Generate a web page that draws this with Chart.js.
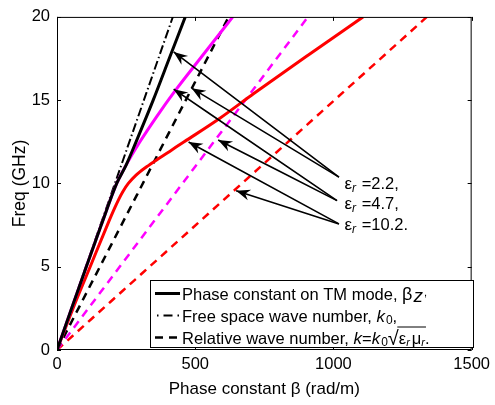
<!DOCTYPE html>
<html><head><meta charset="utf-8">
<script src="https://cdn.jsdelivr.net/npm/chart.js@4/dist/chart.umd.min.js"></script>
<style>html,body{margin:0;padding:0;background:#fff}#c{display:block}</style>
</head><body>
<canvas id="c" width="495" height="405"></canvas>
<script>
// ---- data ----
const xTicks = [0, 500, 1000, 1500];
const yTicks = [0, 5, 10, 15, 20];

// TM-mode phase constant (solid)
const tm22Beta  = [0, 53, 106, 160, 216, 250, 286, 348, 406, 464];
const tm22Freq  = [0, 2.5, 5, 7.5, 10, 11.1, 12.5, 15, 17.5, 20];
const tm47Beta  = [0, 53, 106, 160, 216, 250, 300, 360, 429, 518, 636];
const tm47Freq  = [0, 2.5, 5, 7.5, 10, 11.1, 12.5, 14, 15.6, 17.5, 20];
const tm102Beta = [0, 58, 120, 182, 208, 222, 238, 258, 286, 324, 368, 414, 460, 588, 712, 908, 1107];
const tm102Freq = [0, 2.5, 5, 7.5, 8.5, 9, 9.5, 10, 10.5, 11, 11.5, 12, 12.5, 13.9, 15.4, 17.7, 20];

// free-space wave number k0 (dash-dot)
const k0Beta = [0, 419];
const k0Freq = [0, 20];
// relative wave numbers (dashed)
const k22Beta  = [0, 621];
const k47Beta  = [0, 908];
const k102Beta = [0, 1338];
const kFreq    = [0, 20];

// annotation arrows (tail -> head)
const arrowTailBeta = [1020, 1020, 1013, 1013, 1020, 1020];
const arrowTailFreq = [10.38, 10.38, 8.97, 8.97, 7.57, 7.57];
const arrowHeadBeta = [422, 487, 422, 583, 476, 648];
const arrowHeadFreq = [17.9, 15.72, 15.66, 12.61, 12.49, 9.56];

// annotation labels
const labelValues = ['2.2,', '4.7,', '10.2.'];
const labelBeta = [1040, 1040, 1040];
const labelFreq = [9.68, 8.45, 7.22];

const FONT = 'Liberation Sans, Arial, Helvetica, sans-serif';
const FS = 16.5;

function pts(xs, ys) { return xs.map((v, i) => ({x: v, y: ys[i]})); }

const datasets = [];
function line(data, color, width, dash, order) {
  datasets.push({data, borderColor: color, borderWidth: width, borderDash: dash || [],
    pointRadius: 0, fill: false, cubicInterpolationMode: 'monotone', order,
    borderCapStyle: 'butt', borderJoinStyle: 'round'});
}
// dashed first (underneath)
line(pts(k0Beta, k0Freq), '#000000', 2, [9, 3, 1.5, 3], 2);
line(pts(k22Beta, kFreq), '#000000', 2.5, [8, 6], 2);
line(pts(k47Beta, kFreq), '#ff00ff', 2.5, [8, 6], 2);
line(pts(k102Beta, kFreq), '#ff0000', 2.5, [8, 6], 2);
line(pts(tm22Beta, tm22Freq), '#000000', 3, [], 1);
line(pts(tm47Beta, tm47Freq), '#ff00ff', 3, [], 1);
line(pts(tm102Beta, tm102Freq), '#ff0000', 3, [], 1);
for (let i = 0; i < arrowTailBeta.length; i++) {
  line([{x: arrowTailBeta[i], y: arrowTailFreq[i]}, {x: arrowHeadBeta[i], y: arrowHeadFreq[i]}],
       '#000000', 1.6, [], 0);
}

function drawRich(ctx, x, y, segs) {
  ctx.textBaseline = 'alphabetic';
  ctx.textAlign = 'left';
  const out = [];
  for (const s of segs) {
    ctx.font = (s.i ? 'italic ' : '') + s.s + 'px ' + FONT;
    const w = ctx.measureText(s.t).width;
    ctx.fillText(s.t, x, y + (s.dy || 0));
    out.push({x0: x, x1: x + w});
    x += w + (s.gap || 0);
  }
  return out;
}

const deco = {
  id: 'deco',
  afterDatasetsDraw(chart) {
    const ctx = chart.ctx, a = chart.chartArea, xs = chart.scales.x, ys = chart.scales.y;
    ctx.save();
    // arrowheads
    ctx.fillStyle = '#000';
    for (let i = 0; i < arrowTailBeta.length; i++) {
      const tx = xs.getPixelForValue(arrowTailBeta[i]), ty = ys.getPixelForValue(arrowTailFreq[i]);
      const hx = xs.getPixelForValue(arrowHeadBeta[i]), hy = ys.getPixelForValue(arrowHeadFreq[i]);
      let dx = hx - tx, dy = hy - ty; const len = Math.hypot(dx, dy); dx /= len; dy /= len;
      const nx = -dy, ny = dx, L = 14, W = 5.5, N = 4.5;
      ctx.beginPath();
      ctx.moveTo(hx, hy);
      ctx.lineTo(hx - L * dx + W * nx, hy - L * dy + W * ny);
      ctx.lineTo(hx - (L - N) * dx, hy - (L - N) * dy);
      ctx.lineTo(hx - L * dx - W * nx, hy - L * dy - W * ny);
      ctx.closePath();
      ctx.fill();
    }
    // frame + inward ticks
    ctx.strokeStyle = '#000'; ctx.lineWidth = 1;
    ctx.strokeRect(a.left + 0.5, a.top + 0.5, a.right - a.left - 1, a.bottom - a.top - 1);
    ctx.beginPath();
    const T = 4;
    for (const v of xTicks) {
      const px = Math.round(xs.getPixelForValue(v)) + 0.5;
      ctx.moveTo(px, a.bottom); ctx.lineTo(px, a.bottom - T);
      ctx.moveTo(px, a.top); ctx.lineTo(px, a.top + T);
    }
    for (const v of yTicks) {
      const py = Math.round(ys.getPixelForValue(v)) + 0.5;
      ctx.moveTo(a.left, py); ctx.lineTo(a.left + T, py);
      ctx.moveTo(a.right, py); ctx.lineTo(a.right - T, py);
    }
    ctx.stroke();

    // epsilon labels
    ctx.fillStyle = '#000';
    for (let i = 0; i < labelValues.length; i++) {
      const px = xs.getPixelForValue(labelBeta[i]), py = ys.getPixelForValue(labelFreq[i]);
      drawRich(ctx, px, py, [
        {t: 'ε', s: 17},
        {t: 'r', s: 12, i: true, dy: 3, gap: 1},
        {t: ' =' + labelValues[i], s: FS}
      ]);
    }

    // legend box
    const bx = 150, by = 280, bw = 323, bh = 67;
    ctx.fillStyle = '#fff';
    ctx.fillRect(bx, by, bw, bh);
    ctx.strokeStyle = '#000'; ctx.lineWidth = 1;
    ctx.strokeRect(bx + 0.5, by + 0.5, bw, bh);
    const rows = [293.5, 315.5, 337.5];
    const sx0 = 155, sx1 = 180, tx0 = 182;
    // samples
    ctx.lineCap = 'butt';
    ctx.beginPath(); ctx.lineWidth = 3; ctx.setLineDash([]);
    ctx.moveTo(sx0, rows[0]); ctx.lineTo(sx1, rows[0]); ctx.stroke();
    ctx.beginPath(); ctx.lineWidth = 2; ctx.setLineDash([1.5, 5, 9, 5]);
    ctx.moveTo(sx0 + 2, rows[1]); ctx.lineTo(sx1 + 2, rows[1]); ctx.stroke();
    ctx.beginPath(); ctx.lineWidth = 2.5; ctx.setLineDash([8, 6]);
    ctx.moveTo(sx0, rows[2]); ctx.lineTo(sx1, rows[2]); ctx.stroke();
    ctx.setLineDash([]);
    ctx.fillStyle = '#000';
    drawRich(ctx, tx0, rows[0] + 6, [
      {t: 'Phase constant on TM mode, ', s: FS},
      {t: 'β', s: 18, gap: 1},
      {t: 'z', s: 19, i: true, dy: 2, gap: 1},
      {t: ',', s: 11, dy: -4}
    ]);
    drawRich(ctx, tx0, rows[1] + 6, [
      {t: 'Free space wave number, ', s: FS},
      {t: 'k', s: 17, i: true, gap: 1},
      {t: '0', s: 12, dy: 2},
      {t: ',', s: FS}
    ]);
    const r3 = drawRich(ctx, tx0, rows[2] + 6, [
      {t: 'Relative wave number, ', s: FS},
      {t: 'k', s: 17, i: true},
      {t: '=', s: FS},
      {t: 'k', s: 17, i: true, gap: 1},
      {t: '0', s: 12, dy: 2},
      {t: '√', s: 20, dy: 1},
      {t: 'ε', s: FS},
      {t: 'r', s: 11, i: true, dy: 2, gap: 2},
      {t: 'μ', s: FS},
      {t: 'r', s: 11, i: true, dy: 2},
      {t: '.', s: FS}
    ]);
    // radical overline
    ctx.beginPath(); ctx.lineWidth = 1;
    const oy = rows[2] - 10.5;
    ctx.moveTo(r3[5].x1 - 1.5, oy); ctx.lineTo(r3[9].x1 + 1, oy); ctx.stroke();
    ctx.restore();
  }
};

new Chart(document.getElementById('c'), {
  type: 'line',
  data: {datasets},
  options: {
    responsive: false,
    animation: false,
    devicePixelRatio: 1,
    layout: {padding: {top: 9, right: 19, left: 0, bottom: 0}},
    plugins: {legend: {display: false}, tooltip: {enabled: false}},
    scales: {
      x: {
        type: 'linear', min: 0, max: 1500,
        afterBuildTicks: s => { s.ticks = xTicks.map(v => ({value: v})); },
        afterFit: s => { s.height = 55; },
        grid: {display: false, drawTicks: false},
        border: {display: false},
        ticks: {color: '#000', font: {family: FONT, size: FS}, padding: 5, maxRotation: 0,
                callback: v => String(v)},
        title: {display: true, text: 'Phase constant β (rad/m)', color: '#000',
                font: {family: FONT, size: 17}, padding: {top: 0, bottom: 5}}
      },
      y: {
        type: 'linear', min: 0, max: 20,
        afterBuildTicks: s => { s.ticks = yTicks.map(v => ({value: v})); },
        afterFit: s => { s.width = 57; },
        grid: {display: false, drawTicks: false},
        border: {display: false},
        ticks: {color: '#000', font: {family: FONT, size: FS}, padding: 7, callback: v => String(v)},
        title: {display: true, text: 'Freq (GHz)', color: '#000',
                font: {family: FONT, size: 17.5}, padding: {top: 10, bottom: 0}}
      }
    }
  },
  plugins: [deco]
});
</script>
</body></html>
